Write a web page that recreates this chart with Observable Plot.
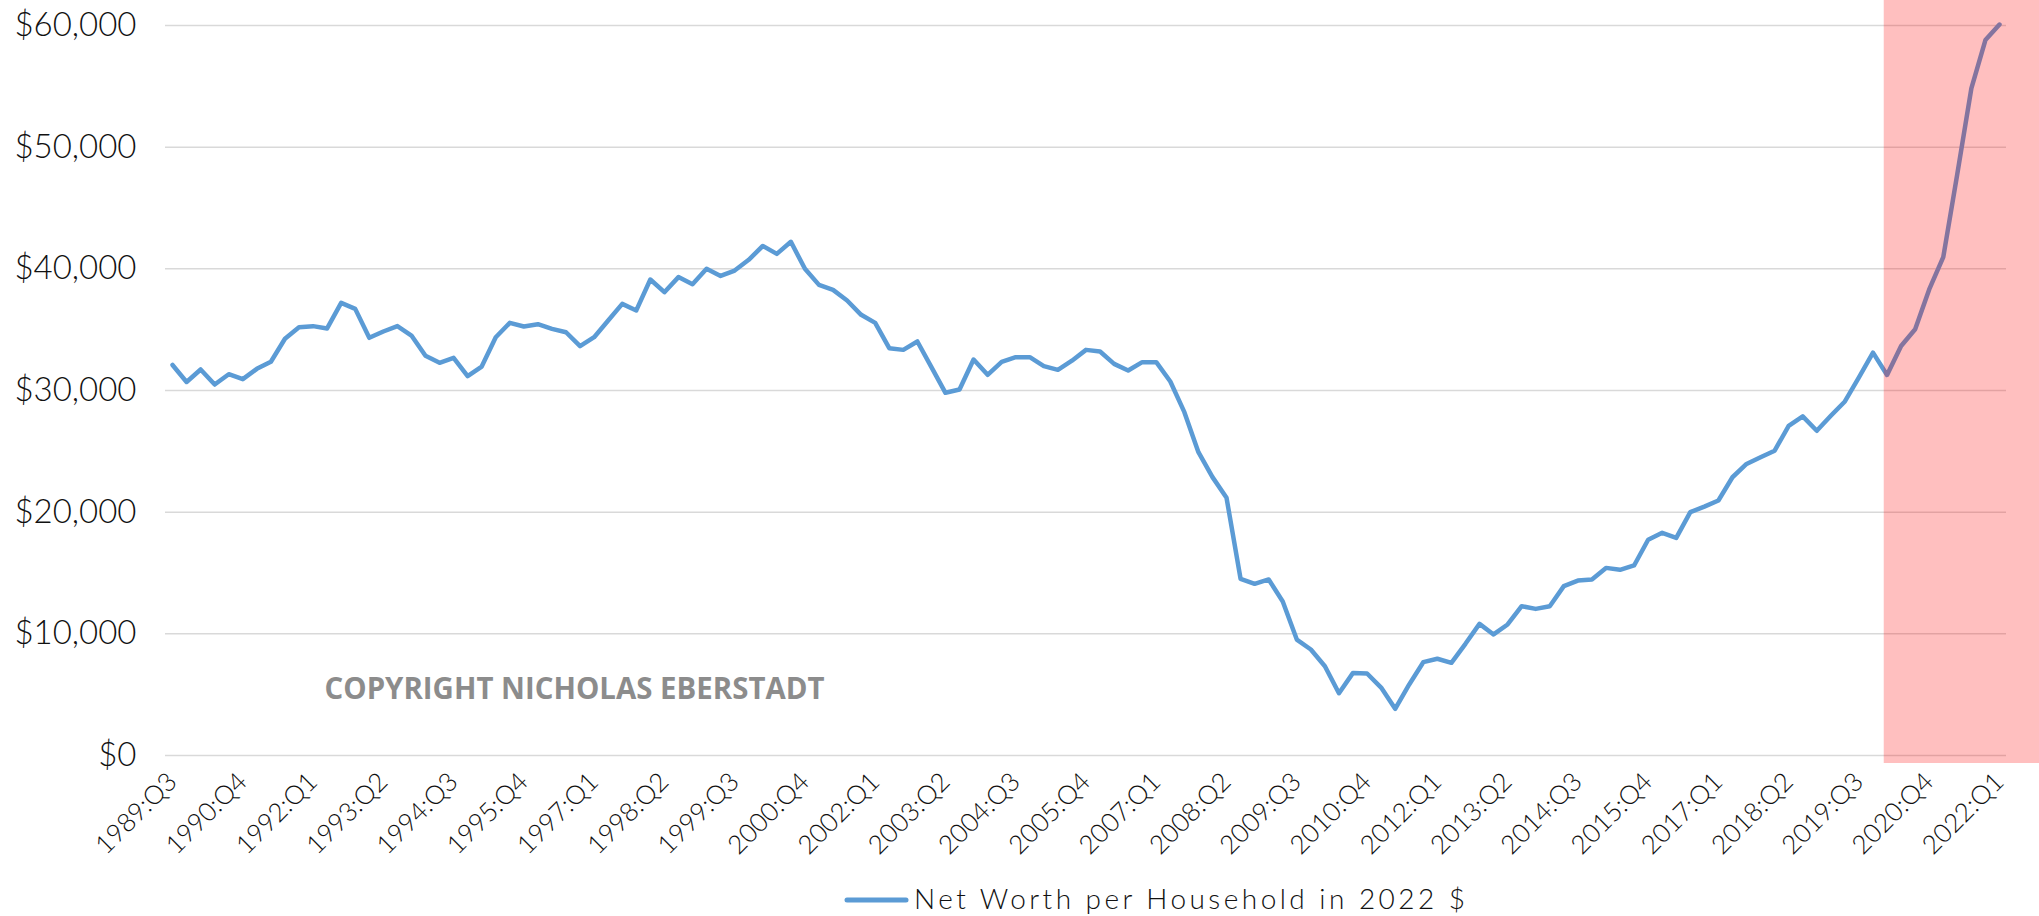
<!DOCTYPE html>
<html>
<head>
<meta charset="utf-8">
<script src="https://cdn.jsdelivr.net/npm/d3@7"></script>
<script src="https://cdn.jsdelivr.net/npm/@observablehq/plot@0.6"></script>
<style>
html, body { margin: 0; padding: 0; background: #fff; }
#wrap { position: relative; width: 2039px; height: 916px; font-family: Lato, sans-serif; }
#legend { position: absolute; left: 840px; top: 878px; overflow: visible; }
</style>
</head>
<body>
<div id="wrap">
  <div id="chart"></div>
  <svg id="legend" width="640" height="36" xmlns="http://www.w3.org/2000/svg">
    <line x1="7" y1="22" x2="66" y2="22" stroke="#5B9BD5" stroke-width="5" stroke-linecap="round"></line>
    <text id="legendText" x="74" y="31" textLength="551" lengthAdjust="spacing"
      style="font-family: Lato, sans-serif; font-weight: 300; font-size: 28px; fill: #111;"></text>
  </svg>
</div>
<script>
// ---- Data ----
const startYear = 1989;
const startQuarter = 3;
const seriesName = "Net Worth per Household in 2022 $";
const netWorth = [
  32100, 30700, 31730, 30490, 31340, 30930, 31780, 32360, 34250, 35200,
  35290, 35100, 37200, 36710, 34330, 34850, 35290, 34520, 32850, 32280,
  32680, 31180, 31970, 34380, 35560, 35260, 35450, 35070, 34790, 33640,
  34380, 35750, 37120, 36580, 39120, 38080, 39320, 38740, 40000, 39420,
  39860, 40740, 41880, 41230, 42220, 40000, 38680, 38270, 37400, 36220,
  35560, 33480, 33340, 34030, 31920, 29810, 30080, 32550, 31290, 32360,
  32740, 32740, 32000, 31700, 32450, 33340, 33210, 32190, 31640, 32330,
  32330, 30740, 28220, 24930, 22880, 21180, 14520, 14110, 14470, 12660,
  9530, 8710, 7340, 5120, 6790, 6740, 5580, 3840, 5840, 7670,
  7950, 7620, 9180, 10820, 9950, 10770, 12270, 12050, 12270, 13920,
  14380, 14470, 15420, 15260, 15620, 17730, 18300, 17890, 20000, 20460,
  20960, 22870, 23960, 24510, 25050, 27100, 27870, 26690, 27920, 29100,
  31070, 33110, 31280, 33660, 35030, 38310, 40960, 47800, 54840, 58800,
  60080
];
const tickLabels = [
  "1989:Q3", "1990:Q4", "1992:Q1", "1993:Q2", "1994:Q3", "1995:Q4", "1997:Q1",
  "1998:Q2", "1999:Q3", "2000:Q4", "2002:Q1", "2003:Q2", "2004:Q3", "2005:Q4",
  "2007:Q1", "2008:Q2", "2009:Q3", "2010:Q4", "2012:Q1", "2013:Q2", "2014:Q3",
  "2015:Q4", "2017:Q1", "2018:Q2", "2019:Q3", "2020:Q4", "2022:Q1"
];
const yTicks = [0, 10000, 20000, 30000, 40000, 50000, 60000];
const highlightStart = "2020:Q1";
const copyright = "COPYRIGHT NICHOLAS EBERSTADT";

// ---- Derived ----
const quarters = netWorth.map((_, i) => {
  const q = startQuarter - 1 + i;
  return `${startYear + Math.floor(q / 4)}:Q${(q % 4) + 1}`;
});
const data = netWorth.map((v, i) => ({ i, quarter: quarters[i], value: v }));
const xTicks = tickLabels.map(l => quarters.indexOf(l));
const hStart = quarters.indexOf(highlightStart);

const chart = Plot.plot({
  width: 2039,
  height: 870,
  marginTop: 25,
  marginBottom: 115,
  marginLeft: 165,
  marginRight: 33,
  style: { fontFamily: "Lato, sans-serif", background: "white", color: "#111" },
  x: { type: "linear", domain: [-0.5, quarters.length - 0.5] },
  y: { domain: [0, 60000] },
  marks: [
    Plot.ruleY(yTicks, { stroke: "#d9d9d9", strokeWidth: 1.5 }),
    Plot.line(data, {
      x: "i", y: "value", stroke: "#5B9BD5", strokeWidth: 4.5,
      strokeLinejoin: "round", strokeLinecap: "round"
    }),
    Plot.rect([hStart], {
      x1: d => d - 0.2, x2: quarters.length - 0.5,
      fill: "#ff0000", fillOpacity: 0.25,
      insetTop: -25, insetBottom: -8, insetRight: -40
    }),
    Plot.text([copyright], {
      frameAnchor: "bottom-left", text: d => d, textAnchor: "start",
      dx: 159, dy: -57, fill: "#8c8c8c", fontWeight: "bold", fontSize: 31,
      fontFamily: "Open Sans, sans-serif", className: "copyright"
    }),
    Plot.axisY({
      ticks: yTicks, tickFormat: d3.format("$,"), tickSize: 0, tickPadding: 29,
      fontSize: 33, fontWeight: 300, label: null, fill: "#111"
    }),
    Plot.axisX({
      ticks: xTicks, tickFormat: i => quarters[i], tickRotate: -45, tickSize: 0,
      tickPadding: 22, fontSize: 26, fontWeight: 300, label: null, fill: "#111"
    })
  ]
});

document.getElementById("chart").appendChild(chart);
document.getElementById("legendText").textContent = seriesName;

const ct = chart.querySelector(".copyright text");
if (ct) {
  ct.setAttribute("textLength", "500");
  ct.setAttribute("lengthAdjust", "spacingAndGlyphs");
}
</script>
</body>
</html>
